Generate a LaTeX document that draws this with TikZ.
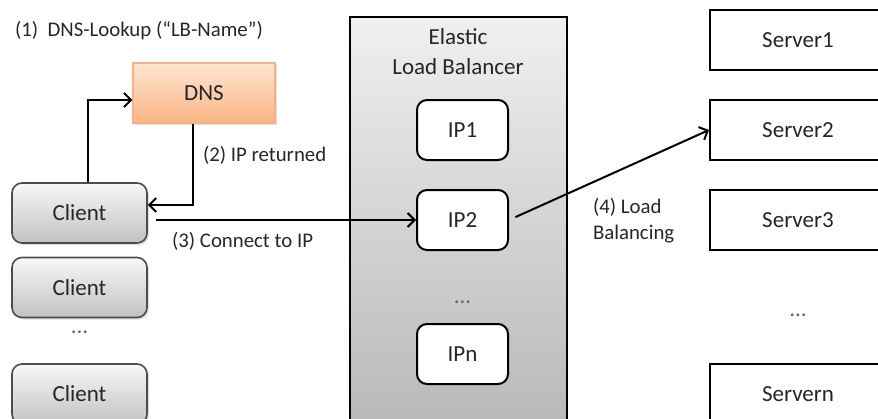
\documentclass[tikz,border=0pt]{standalone}
\usepackage{fontspec}
\setmainfont{Carlito}
\usetikzlibrary{arrows.meta,shadows}
\definecolor{txt}{HTML}{262626}
\definecolor{dnstop}{HTML}{FDE6D2}
\definecolor{dnsbot}{HTML}{FAB585}
\definecolor{dnsline}{HTML}{F4B183}
\begin{document}
\begin{tikzpicture}[x=0.5pt,y=-0.5pt,
  nodefont/.style={font=\fontsize{11.5}{15}\selectfont, text=txt},
  lblfont/.style={font=\fontsize{10.4}{13}\selectfont, text=txt},
  clientbox/.style={nodefont, draw=black!70, line width=0.8pt, rounded corners=5pt,
    top color=black!3, bottom color=black!24, minimum width=67.5pt, minimum height=30pt,
    drop shadow={opacity=0.25, shadow xshift=1pt, shadow yshift=-1pt}},
  dnsbox/.style={nodefont, draw=dnsline, line width=0.6pt, top color=dnstop, bottom color=dnsbot,
    minimum width=71pt, minimum height=30pt,
    drop shadow={opacity=0.25, shadow xshift=1pt, shadow yshift=-1pt}},
  elbbox/.style={draw=black, line width=1pt, top color=black!6, bottom color=black!28,
    minimum width=108.5pt, minimum height=206.5pt},
  ipbox/.style={nodefont, draw=black, line width=1pt, rounded corners=5pt, fill=white,
    minimum width=45.5pt, minimum height=30pt},
  serverbox/.style={nodefont, draw=black, line width=1pt, fill=white,
    minimum width=88pt, minimum height=30pt},
  dots/.style={nodefont, text=black!60},
  arr/.style={line width=1pt, draw=black, -{Straight Barb[length=3.5pt,width=7pt,line width=1pt]}}
]
\useasboundingbox (0,0) rectangle (878,418);
\clip (0,0) rectangle (878,418);

% Elastic Load Balancer
\node[elbbox] (elb) at (458.5,223.5) {};
\node[nodefont, align=center] (elbtitle) at (458,52) {Elastic\\Load Balancer};
\node[ipbox] (ip1) at (462.5,130) {IP1};
\node[ipbox] (ip2) at (462.5,220) {IP2};
\node[dots] (ipdots) at (462.5,302) {...};
\node[ipbox] (ipn) at (462.5,354) {IPn};

% DNS
\node[dnsbox] (dns) at (204,93) {DNS};

% Clients
\node[clientbox] (client1) at (79.5,213) {Client};
\node[clientbox] (client2) at (79.5,287.5) {Client};
\node[dots] (clientdots) at (79.5,332) {...};
\node[clientbox] (client3) at (79.5,394) {Client};

% Servers
\node[serverbox] (server1) at (798,40) {Server1};
\node[serverbox] (server2) at (798,130) {Server2};
\node[serverbox] (server3) at (798,220) {Server3};
\node[dots] (serverdots) at (798,315) {...};
\node[serverbox] (servern) at (798,394) {Servern};

% Labels
\node[lblfont, anchor=west] (l1) at (8,31) {(1)\hspace{0.45em}DNS-Lookup (“LB-Name”)};
\node[lblfont, anchor=west] (l2) at (196,155) {(2) IP returned};
\node[lblfont, anchor=west] (l3) at (165,241) {(3) Connect to IP};
\node[lblfont, anchor=west, align=left] (l4) at (586,221) {(4) Load\\Balancing};

% helper coordinates
\coordinate (a1) at (88,0);
\coordinate (a2) at (0,100);
\coordinate (a3) at (193,0);
\coordinate (a4) at (0,205);

% Connectors
\draw[arr] (client1.north -| a1) |- (dns.west |- a2);
\draw[arr] (dns.south -| a3) |- (client1.east |- a4);
\draw[arr, shorten <=4pt] (client1.east |- ip2.west) -- (ip2.west);
\draw[arr, shorten <=3.5pt] (ip2.east) -- (server2.west);
\end{tikzpicture}
\end{document}
